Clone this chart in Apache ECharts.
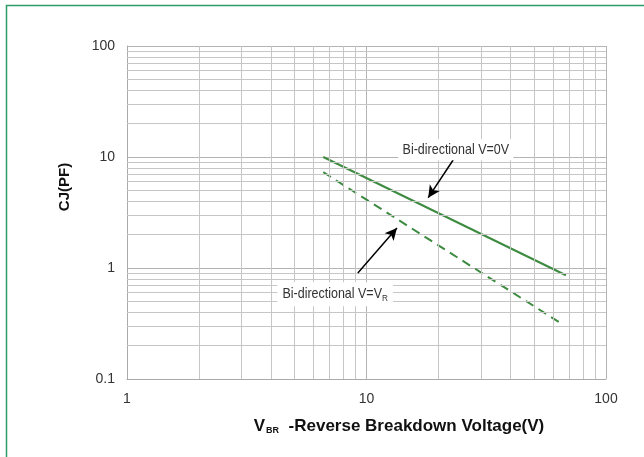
<!DOCTYPE html>
<html>
<head>
<meta charset="utf-8">
<script src="https://cdn.jsdelivr.net/npm/echarts@6/dist/echarts.min.js"></script>
<style>html,body{margin:0;padding:0;background:#fff}#c{width:644px;height:457px}</style>
</head>
<body>
<div id="c"></div>
<script>
// ---- data ----
const xRange = [1, 100];
const yRange = [0.1, 100];
const solidX = [6.6, 68];
const solidY = [10, 0.86];
const dashedX = [6.6, 66];
const dashedY = [7.3, 0.31];
const xMinor = [2, 3, 4, 5, 6, 7, 8, 9, 20, 30, 40, 50, 60, 70, 80, 90];
const yMinor = [0.2, 0.3, 0.4, 0.5, 0.6, 0.7, 0.8, 0.9, 2, 3, 4, 5, 6, 7, 8, 9, 20, 30, 40, 50, 60, 70, 80, 90];
const label0V = 'Bi-directional V=0V';
const labelVR = ['Bi-directional V=V', 'R'];
const label0VAt = [23.6, 11.6];
const labelVRAt = [7.4, 0.58];
const arrow0V = [[23.0, 9.4], [18.1, 4.3]];
const arrowVR = [[9.2, 0.90], [13.4, 2.29]];
const yName = 'CJ(PF)';
const xNameMain = 'V';
const xNameSub = 'BR';
const xNameRest = '  -Reverse Breakdown Voltage(V)';

const green = '#3d8b40';
const gridColor = '#c6c6c6';
const zip = (a, b) => a.map((v, i) => [v, b[i]]);
const annFont = '"Liberation Sans", Arial, sans-serif';

const chart = echarts.init(document.getElementById('c'));
const baseGraphic = [
  { type: 'rect', shape: { x: 6.5, y: 5.5, width: 700, height: 500 }, style: { fill: 'none', stroke: '#2e9b68', lineWidth: 1.5 }, silent: true },
  { type: 'text', x: 65, y: 187, rotation: Math.PI / 2, style: { text: yName, font: 'bold 15px "Liberation Sans"', fill: '#111', align: 'center', verticalAlign: 'middle' } },
  { type: 'text', x: 399, y: 426, style: {
      text: '{v|' + xNameMain + '}{s|' + xNameSub + '}{t|' + xNameRest + '}',
      align: 'center', verticalAlign: 'middle',
      rich: {
        v: { font: 'bold 17px "Liberation Sans"', fill: '#111' },
        s: { font: 'bold 9px "Liberation Sans"', fill: '#111', padding: [9, 0, 0, 1] },
        t: { font: 'bold 17px "Liberation Sans"', fill: '#111' }
      } } }
];
chart.setOption({
  animation: false,
  backgroundColor: '#fff',
  grid: { left: 127, top: 46, right: 38, bottom: 78, show: false },
  xAxis: {
    type: 'log', logBase: 10, min: xRange[0], max: xRange[1],
    axisLine: { show: true, lineStyle: { color: '#aaa', width: 1 } },
    axisTick: { show: false },
    axisLabel: { color: '#333', fontSize: 14, fontFamily: 'Liberation Sans', margin: 13 },
    splitLine: { show: true, lineStyle: { color: '#b4b4b4', width: 1 } }
  },
  yAxis: {
    type: 'log', logBase: 10, min: yRange[0], max: yRange[1],
    axisLine: { show: true, lineStyle: { color: '#aaa', width: 1 } },
    axisTick: { show: false },
    axisLabel: { color: '#333', fontSize: 14, fontFamily: 'Liberation Sans', margin: 12 },
    splitLine: { show: true, lineStyle: { color: '#b4b4b4', width: 1 } }
  },
  graphic: baseGraphic,
  series: [
    {
      type: 'line', data: [], z: 1, silent: true,
      markLine: {
        silent: true, symbol: 'none', animation: false,
        label: { show: false },
        lineStyle: { color: gridColor, type: 'solid', width: 1 },
        data: xMinor.map(v => ({ xAxis: v })).concat(yMinor.map(v => ({ yAxis: v })))
      }
    },
    {
      type: 'line', data: zip(solidX, solidY), z: 3, showSymbol: false,
      lineStyle: { color: green, width: 2 }
    },
    {
      type: 'line', data: zip(dashedX, dashedY), z: 3, showSymbol: false,
      lineStyle: { color: green, width: 2, type: [9, 6] }
    },
    {
      type: 'line', data: [], z: 4, silent: true,
      markLine: {
        silent: true, symbol: ['none', 'arrow'], symbolSize: [9, 12], animation: false,
        label: { show: false },
        lineStyle: { color: '#000', type: 'solid', width: 1.5 },
        data: [
          [{ coord: arrow0V[0] }, { coord: arrow0V[1] }],
          [{ coord: arrowVR[0] }, { coord: arrowVR[1] }]
        ]
      }
    }
  ]
});

// annotation labels positioned through the chart's own scales
const p0 = chart.convertToPixel({ seriesIndex: 1 }, label0VAt);
const p1 = chart.convertToPixel({ seriesIndex: 1 }, labelVRAt);
chart.setOption({
  graphic: baseGraphic.concat([
    { type: 'text', x: p0[0], y: p0[1], scaleX: 0.86, z: 10, style: {
        text: label0V, font: '14.5px ' + annFont, fill: '#333', align: 'center', verticalAlign: 'middle',
        backgroundColor: '#fff', padding: [3, 5] } },
    { type: 'text', x: p1[0], y: p1[1], scaleX: 0.86, z: 10, style: {
        text: '{a|' + labelVR[0] + '}{b|' + labelVR[1] + '}', align: 'center', verticalAlign: 'middle',
        backgroundColor: '#fff', padding: [3, 6],
        rich: {
          a: { font: '14.5px ' + annFont, fill: '#333' },
          b: { font: '9.5px ' + annFont, fill: '#333', padding: [8, 0, 0, 0] }
        } } }
  ])
});
</script>
</body>
</html>
